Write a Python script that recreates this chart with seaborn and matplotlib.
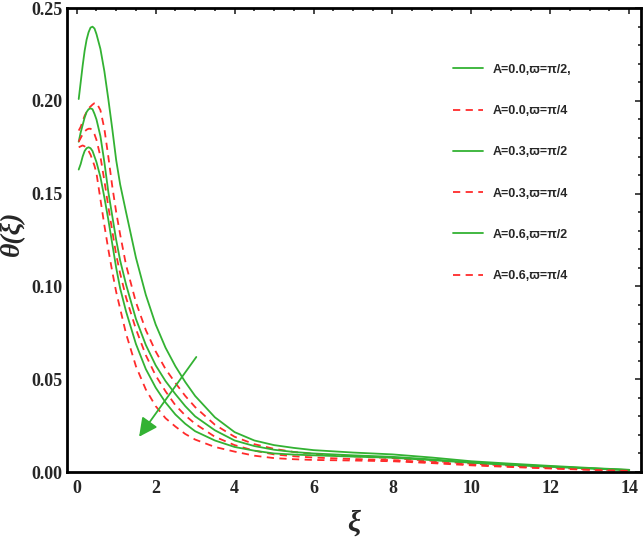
import numpy as np
import pandas as pd
import seaborn as sns
import matplotlib
matplotlib.use("Agg")
from matplotlib import pyplot as plt
from matplotlib.lines import Line2D
from matplotlib.ticker import MultipleLocator, FormatStrFormatter

xi = [0.05, 0.1, 0.15, 0.2, 0.25, 0.3, 0.35, 0.4, 0.45, 0.5,
      0.6, 0.7, 0.8, 0.9, 1.0, 1.1,
      1.25, 1.5, 1.75, 2.0, 2.25, 2.5, 2.75, 3.0,
      3.5, 4.0, 4.5, 5.0, 5.5, 6.0,
      7.0, 8.0, 9.0, 10.0, 11.0, 12.0, 13.0, 14.0]

# A=0.0, w=pi/2
g1 = [0.201, 0.210, 0.219, 0.227, 0.233, 0.237, 0.2395, 0.240, 0.239, 0.236,
      0.228, 0.216, 0.201, 0.185, 0.168, 0.155,
      0.140, 0.1155, 0.0955, 0.0795, 0.067, 0.057, 0.0485, 0.041,
      0.0295, 0.0215, 0.017, 0.0145, 0.013, 0.0118,
      0.0105, 0.0095, 0.0078, 0.0058, 0.0045, 0.0033, 0.0022, 0.0012]
# A=0.0, w=pi/4
r1 = [0.184, 0.186, 0.189, 0.192, 0.194, 0.196, 0.197, 0.198, 0.1988, 0.199,
      0.195, 0.185, 0.170, 0.154, 0.140, 0.128,
      0.1115, 0.0915, 0.0765, 0.065, 0.0555, 0.048, 0.041, 0.035,
      0.0255, 0.019, 0.015, 0.0125, 0.0108, 0.0098,
      0.0085, 0.0075, 0.006, 0.0045, 0.0034, 0.0024, 0.0015, 0.0008]
# A=0.3, w=pi/2
g2 = [0.178, 0.183, 0.187, 0.191, 0.194, 0.1955, 0.196, 0.1955, 0.193, 0.190,
      0.181, 0.167, 0.151, 0.138, 0.125, 0.114,
      0.101, 0.0825, 0.0685, 0.0575, 0.049, 0.042, 0.0355, 0.030,
      0.0225, 0.017, 0.014, 0.012, 0.0108, 0.010,
      0.009, 0.0082, 0.0068, 0.0052, 0.004, 0.003, 0.002, 0.0011]
# A=0.3, w=pi/4
r2 = [0.178, 0.180, 0.182, 0.1835, 0.1845, 0.185, 0.185, 0.184, 0.182, 0.179,
      0.170, 0.157, 0.143, 0.130, 0.117, 0.107,
      0.094, 0.077, 0.063, 0.052, 0.0435, 0.036, 0.0305, 0.026,
      0.019, 0.0145, 0.0115, 0.0095, 0.0085, 0.0078,
      0.007, 0.0064, 0.0052, 0.004, 0.003, 0.0021, 0.0013, 0.0007]
# A=0.6, w=pi/2
g3 = [0.163, 0.166, 0.170, 0.173, 0.1745, 0.175, 0.1745, 0.173, 0.170, 0.167,
      0.159, 0.148, 0.136, 0.123, 0.110, 0.099,
      0.0865, 0.069, 0.0555, 0.0455, 0.0375, 0.031, 0.026, 0.022,
      0.017, 0.0135, 0.0115, 0.010, 0.0094, 0.009,
      0.0083, 0.0077, 0.0064, 0.005, 0.0038, 0.0028, 0.0019, 0.001]
# A=0.6, w=pi/4
r3 = [0.175, 0.1755, 0.176, 0.1755, 0.1745, 0.173, 0.171, 0.168, 0.165, 0.161,
      0.147, 0.133, 0.120, 0.108, 0.097, 0.088,
      0.0745, 0.057, 0.0445, 0.0355, 0.029, 0.0245, 0.0205, 0.0175,
      0.0135, 0.011, 0.0088, 0.0075, 0.0069, 0.0065,
      0.0062, 0.0058, 0.0048, 0.0036, 0.0027, 0.0019, 0.0012, 0.0006]

labels = ["A=0.0,ϖ=π/2,", "A=0.0,ϖ=π/4", "A=0.3,ϖ=π/2",
          "A=0.3,ϖ=π/4", "A=0.6,ϖ=π/2", "A=0.6,ϖ=π/4"]
series = [g1, r1, g2, r2, g3, r3]

GREEN = "#33b233"
RED = "#ff2b2b"

df = pd.concat([pd.DataFrame({"xi": xi, "theta": s, "case": lab})
                for s, lab in zip(series, labels)], ignore_index=True)

sns.set_style("white")
plt.rcParams["font.family"] = ["Liberation Serif", "DejaVu Serif"]

fig = plt.figure(figsize=(6.43, 5.41), dpi=100)
ax = fig.add_axes([0.104, 0.1275, 0.893, 0.8575])

palette = {lab: (GREEN if "π/2" in lab else RED) for lab in labels}
dashes = {lab: ("" if "π/2" in lab else (4, 3)) for lab in labels}
sns.lineplot(data=df, x="xi", y="theta", hue="case", style="case",
             hue_order=labels, style_order=labels, palette=palette,
             dashes=dashes, linewidth=1.3, ax=ax, legend=False, sort=False)

ax.set_xlim(-0.25, 14.3)
ax.set_ylim(0, 0.25)
ax.xaxis.set_major_locator(MultipleLocator(2))
ax.xaxis.set_minor_locator(MultipleLocator(0.5))
ax.yaxis.set_major_locator(MultipleLocator(0.05))
ax.yaxis.set_minor_locator(MultipleLocator(0.01))
ax.yaxis.set_major_formatter(FormatStrFormatter("%.2f"))
ax.tick_params(which="both", direction="in", top=True, right=True, width=1.2)
ax.tick_params(which="major", length=4)
ax.tick_params(which="minor", length=2.5)
ax.tick_params(axis="x", pad=6)
ax.tick_params(axis="y", pad=3)
for lab in ax.get_xticklabels() + ax.get_yticklabels():
    lab.set_fontweight("bold")
    lab.set_fontsize(13)
for sp in ax.spines.values():
    sp.set_linewidth(2)
    sp.set_color("black")

ax.set_xlabel("ξ", fontsize=21, fontstyle="italic", fontweight="bold")
ax.set_ylabel("θ(ξ)", fontsize=20, fontstyle="italic", fontweight="bold")
ax.xaxis.set_label_coords(0.5, -0.082)
ax.yaxis.set_label_coords(-0.072, 0.515)

# arrow showing increase of A
ax.annotate("", xy=(1.58, 0.019), xytext=(3.03, 0.062),
            arrowprops=dict(arrowstyle="-|>", color=GREEN, lw=1.3,
                            mutation_scale=28, shrinkA=0, shrinkB=0))

handles = [Line2D([], [], color=palette[lab], lw=1.3,
                  linestyle="-" if "π/2" in lab else (0, (4, 3)))
           for lab in labels]
ax.legend(handles, labels, loc="upper left", bbox_to_anchor=(0.672, 0.880),
          frameon=False, borderpad=0, borderaxespad=0, handlelength=2.4,
          handletextpad=0.8, labelspacing=2.34,
          prop={"family": ["Liberation Sans", "DejaVu Sans"], "weight": "bold", "size": 9})

fig.savefig("out.png", dpi=100)
